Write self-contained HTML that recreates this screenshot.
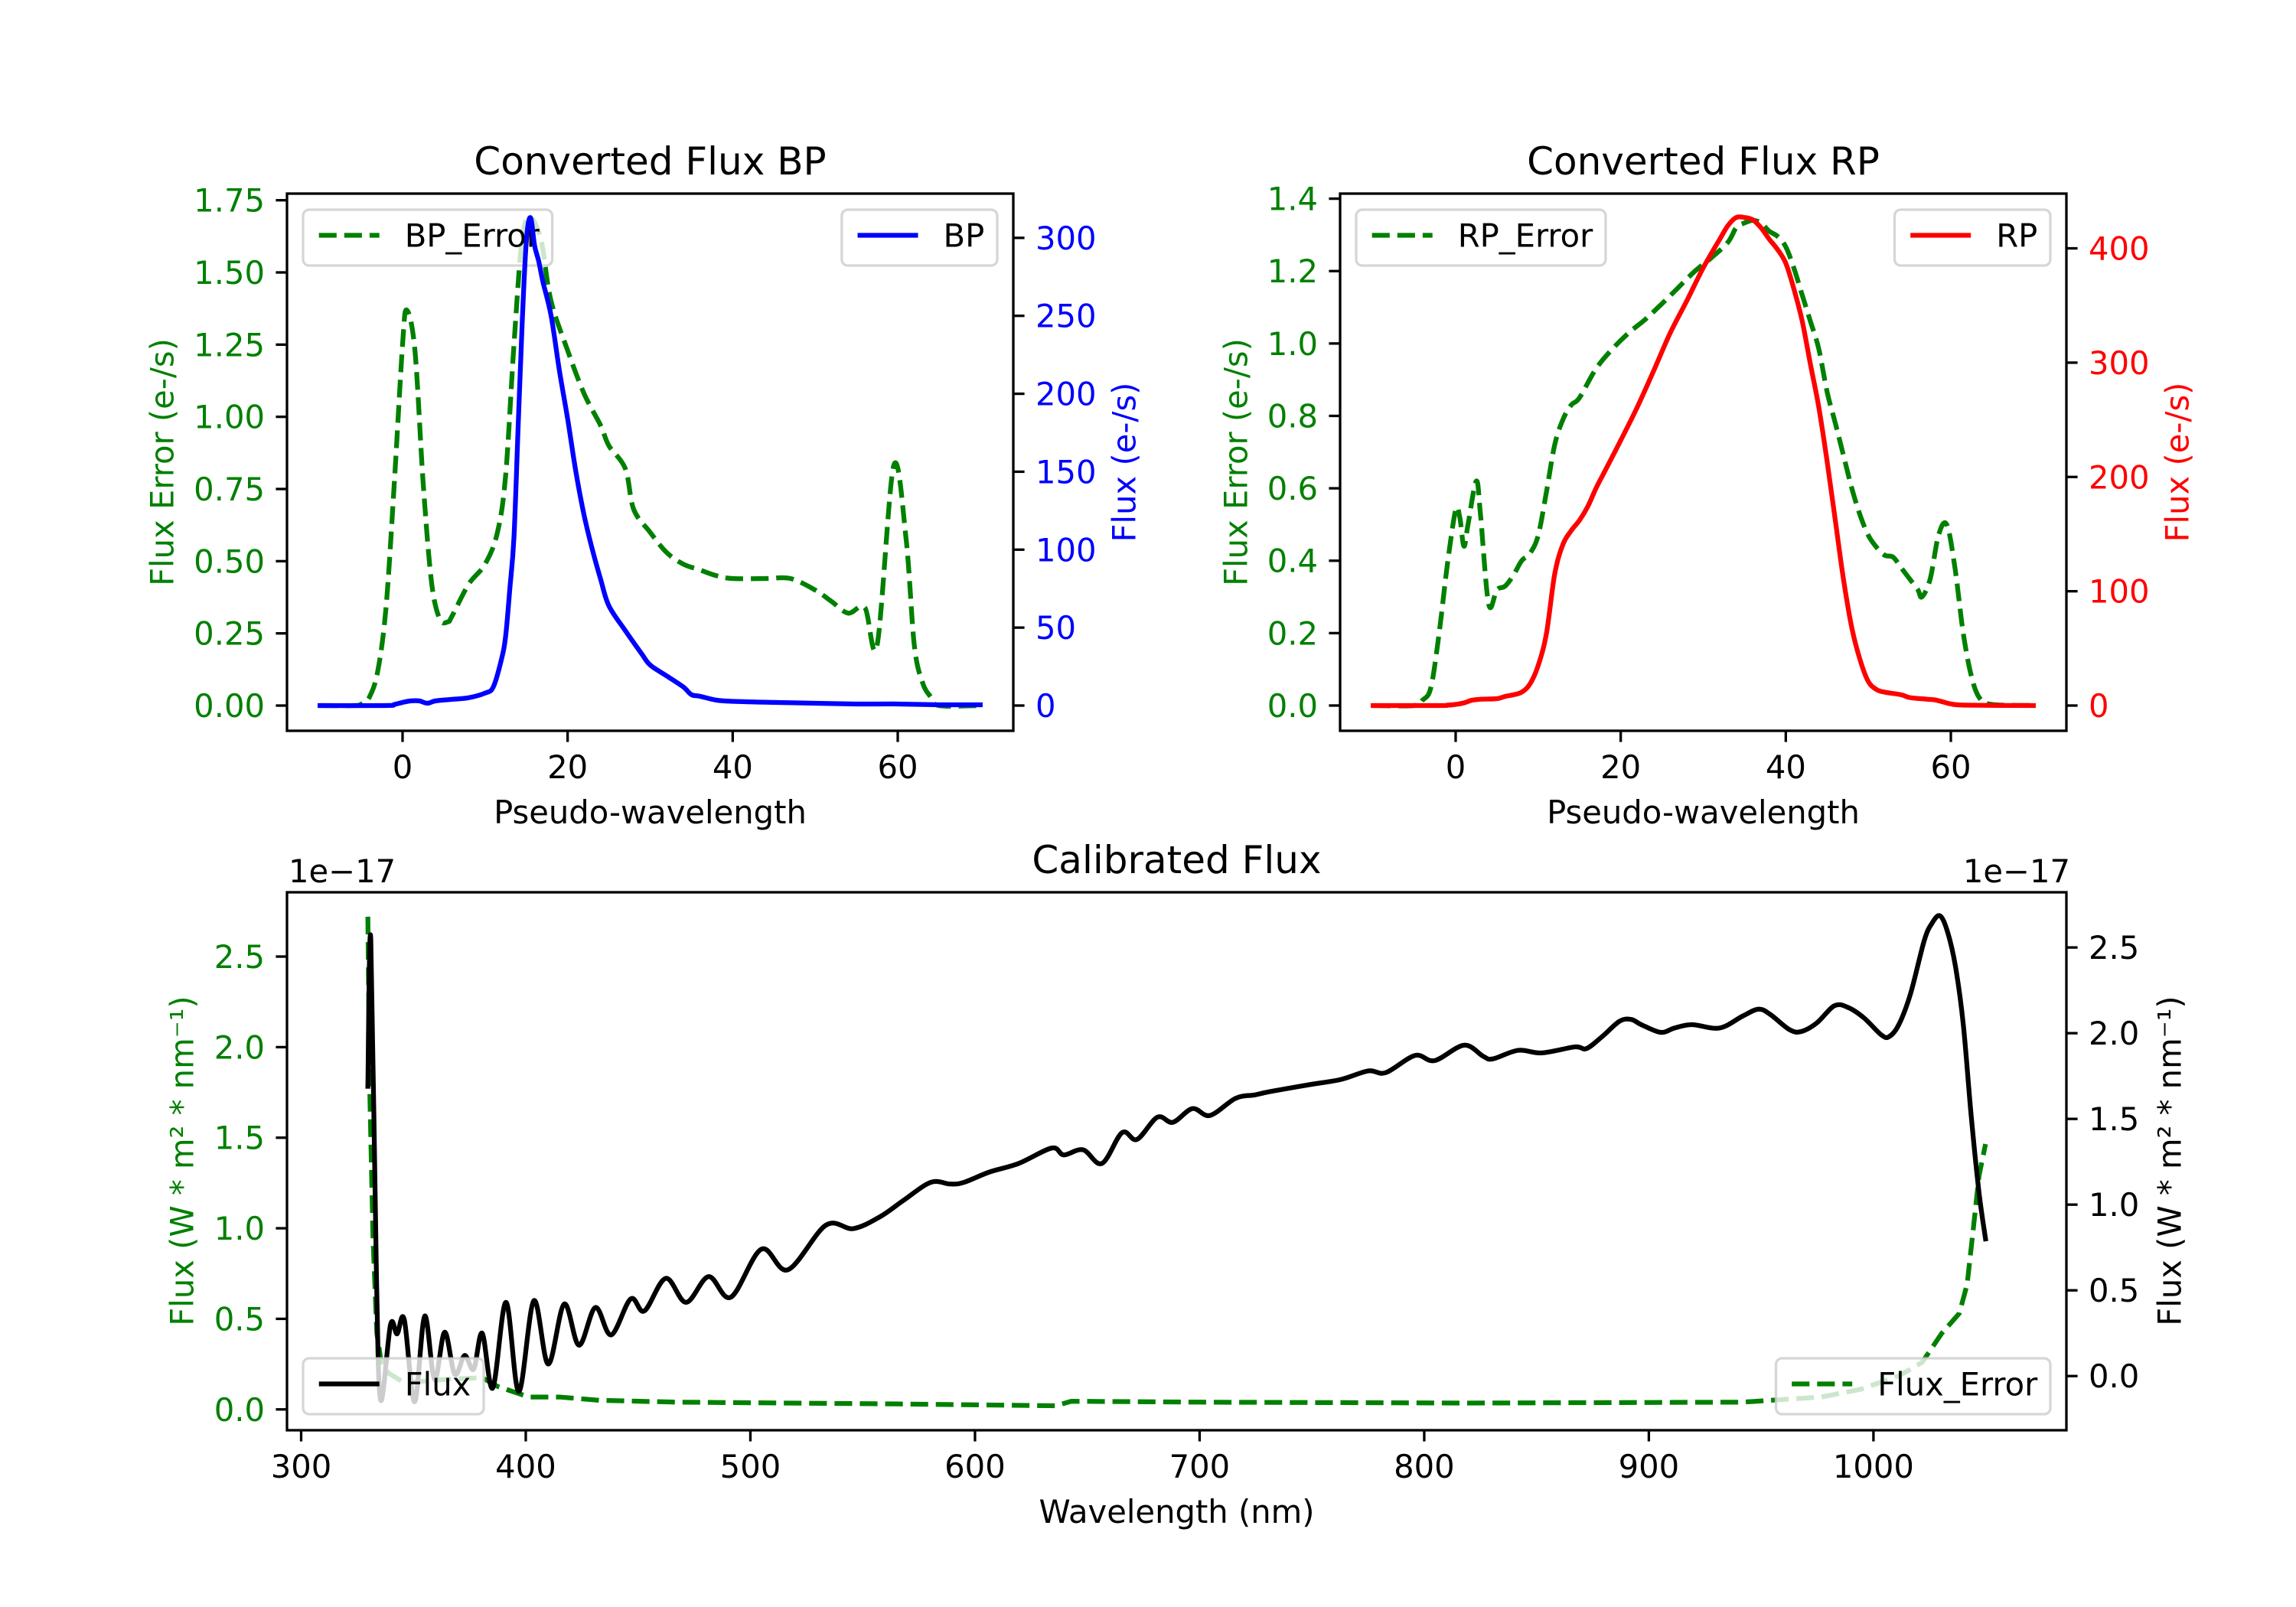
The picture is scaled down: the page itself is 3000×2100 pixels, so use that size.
<!DOCTYPE html>
<html><head><meta charset="utf-8"><title>Converted and Calibrated Flux</title>
<style>
html,body{margin:0;padding:0;background:#fff;}
svg{display:block;font-family:"DejaVu Sans","Liberation Sans",sans-serif;}
</style></head>
<body>
<svg id="fig" width="3000" height="2100" viewBox="0 0 3000 2100" xmlns="http://www.w3.org/2000/svg">
<rect x="0" y="0" width="3000" height="2100" fill="#ffffff"/>
</svg>
<script>
// ---------- BP panel data ----------
const bpErrX = [-10,-6,-5,-4,-3,-2,-1,0,0.5,1.5,2.5,3.5,4.5,5.5,6,8,10,11.5,12.5,13.5,14.5,15.5,16.5,17,18,20,22,24,25,27,28,30,32,34,36,38,40,44,47,50,52,54,56,57.5,59.5,61,62,63,64,65,70];
const bpErrY = [0,0,0.005,0.03,0.12,0.34,0.77,1.25,1.37,1.23,0.77,0.43,0.30,0.29,0.31,0.42,0.49,0.60,0.80,1.25,1.62,1.69,1.64,1.58,1.40,1.23,1.08,0.97,0.90,0.82,0.68,0.60,0.53,0.49,0.47,0.45,0.44,0.44,0.44,0.40,0.36,0.32,0.34,0.21,0.83,0.58,0.21,0.08,0.03,0,0];
const bpFluxX = [-10,-2,-1,0,1,2,3,4,6,8,10,11,12,12.5,13,13.5,14,14.5,15,15.5,16,16.5,17,18,19,20,21,22,23,24,25,27,29,30,32,34,35,36,38,40,45,50,55,60,65,70];
const bpFluxY = [0,0,0.7,2,3,3,1.5,3,4,5,8,12,30,45,75,108,178,246,298,313,295,285,272,250,215,184,150,122,100,81,64,48,33,26,19,12,7,6,3.5,2.7,2,1.5,1,1,0.5,0.5];
const bpLeftTicks = [0,0.25,0.5,0.75,1.0,1.25,1.5,1.75];
const bpLeftTickLabels = ["0.00","0.25","0.50","0.75","1.00","1.25","1.50","1.75"];
const bpRightTicks = [0,50,100,150,200,250,300];
const pseudoTicks = [0,20,40,60];

// ---------- RP panel data ----------
const rpErrX = [-10,-5,-4,-3,-2,-1,0,0.5,1,1.5,2.5,3,4,5,6,7,8,9,10,11,12,13,14,15,17,19,21,23,25,27,29,31,33,34,35,36,37,38,39,40,41,42,43,44,45,46,47,48,49,50,51,52,53,54,55,56,56.5,57.5,58.5,59.5,60.5,61.5,62.5,63.5,65,70];
const rpErrY = [0,0,0.015,0.05,0.2,0.39,0.54,0.52,0.44,0.5,0.62,0.53,0.28,0.32,0.33,0.36,0.40,0.42,0.47,0.59,0.72,0.79,0.83,0.85,0.93,0.985,1.03,1.067,1.11,1.155,1.2,1.237,1.28,1.32,1.333,1.34,1.333,1.31,1.296,1.267,1.207,1.133,1.06,0.985,0.867,0.78,0.69,0.6,0.526,0.47,0.437,0.415,0.41,0.38,0.35,0.32,0.30,0.35,0.47,0.5,0.38,0.2,0.08,0.02,0.003,0];
const rpFluxX = [-10,-2,-1,0,1,2,3,5,6,7,8,9,10,11,12,13,14,15,16,17,18,20,22,24,26,28,30,32,33,34,35,36,37,38,39,40,41,42,43,44,45,46,47,48,49,50,51,52,54,55,57,58,59,60,62,70];
const rpFluxY = [0,0,0.3,1,2.3,4.7,5.5,6,8,9.4,11.7,18.8,35,63,115,141,153,162,174,190,204,232,261,293,326,354,383,408,420,427,427,425,418,408,399,387,364,336,298,261,214,162,110,68,40,21,14,11.7,9.4,7,5.6,5,3.3,1.4,0.3,0];
const rpLeftTicks = [0,0.2,0.4,0.6,0.8,1.0,1.2,1.4];
const rpLeftTickLabels = ["0.0","0.2","0.4","0.6","0.8","1.0","1.2","1.4"];
const rpRightTicks = [0,100,200,300,400];

// ---------- Calibrated panel data (units of 1e-17) ----------
const calFluxX = [329.7,331,333.5,335.4,339.8,342.7,345.9,350.5,355,359.4,363.9,368.4,372.8,376.8,380.6,385.3,391.2,396.9,403.6,410,417.1,423.7,431,438,446.7,452.8,462.3,471.4,481.4,491.3,504.9,516.7,533.6,545.8,557.8,568.2,580.3,589,595.1,606.4,619.4,634.2,639.5,648.1,656.5,665.5,672.1,681.2,688.1,696.8,704.6,716,724.6,731.6,749,762.9,775.1,782.9,795.9,804.6,817.7,826.3,830.5,841.8,852.3,867.1,872.2,879.2,887,892.2,896.6,905.3,911.4,919.2,931.4,941.8,948.8,954,962.7,967.9,974.8,982.6,988.7,995.7,1003.5,1007,1011.3,1016.5,1022.6,1026,1029.6,1033,1036.5,1040,1043.5,1047,1049.9];
const calFluxY = [1.69,2.55,0.6,-0.14,0.30,0.246,0.33,-0.15,0.35,-0.02,0.256,0.01,0.12,0.04,0.25,-0.07,0.43,-0.09,0.44,0.07,0.42,0.18,0.40,0.24,0.45,0.38,0.57,0.43,0.58,0.46,0.74,0.62,0.88,0.86,0.93,1.025,1.13,1.12,1.13,1.19,1.24,1.33,1.29,1.32,1.24,1.42,1.38,1.51,1.48,1.56,1.52,1.62,1.64,1.66,1.70,1.73,1.78,1.77,1.87,1.84,1.93,1.865,1.85,1.90,1.885,1.92,1.91,1.98,2.07,2.08,2.05,2.005,2.03,2.05,2.03,2.10,2.14,2.11,2.02,2.01,2.06,2.16,2.15,2.09,1.99,1.98,2.05,2.23,2.54,2.64,2.685,2.59,2.39,2.05,1.52,1.07,0.80];
const calErrX = [329.7,330.5,332,333.7,335.4,338.9,345.9,363.5,380.6,387.6,401.5,415.4,432.9,467.7,566,635.9,642.9,700,820,941.8,976.6,994,1011.3,1021.7,1030.4,1038.2,1041.7,1044.3,1047,1049.9];
const calErrY = [2.72,1.79,0.94,0.42,0.28,0.20,0.147,0.165,0.175,0.126,0.068,0.068,0.05,0.04,0.03,0.02,0.045,0.04,0.035,0.04,0.068,0.11,0.185,0.26,0.42,0.53,0.69,0.98,1.29,1.465];
const calTicksY = [0,0.5,1.0,1.5,2.0,2.5];
const calTickLabels = ["0.0","0.5","1.0","1.5","2.0","2.5"];
const wlTicks = [300,400,500,600,700,800,900,1000];

// ---------- layout ----------
const NS = "http://www.w3.org/2000/svg";
const svg = document.getElementById('fig');
const FS = 41.7, TICK = 14.6, LW = 3.3, PLW = 6.25;
const GREEN = "#008000";

const axBP = {x0:375,x1:1324,y0:253,y1:955,xl:[-14,74],yl:[-0.0874,1.773],yr:[-16.2,328.4]};
const axRP = {x0:1751,x1:2700,y0:253,y1:955,xl:[-14,74],yl:[-0.0698,1.414],yr:[-22.1,447.9]};
const axCal = {x0:375,x1:2700,y0:1166,y1:1869,xl:[293.7,1085.9],yl:[-0.115,2.855],yr:[-0.316,2.822]};

function sx(ax,v){return ax.x0+(v-ax.xl[0])/(ax.xl[1]-ax.xl[0])*(ax.x1-ax.x0);}
function syL(ax,v){return ax.y1-(v-ax.yl[0])/(ax.yl[1]-ax.yl[0])*(ax.y1-ax.y0);}
function syR(ax,v){return ax.y1-(v-ax.yr[0])/(ax.yr[1]-ax.yr[0])*(ax.y1-ax.y0);}

function mk(tag, attrs, parent){
  const e = document.createElementNS(NS, tag);
  for (const k in attrs) e.setAttribute(k, attrs[k]);
  (parent||svg).appendChild(e);
  return e;
}
function smoothPath(pts){
  if (pts.length<2) return "";
  let d = "M"+pts[0][0].toFixed(2)+","+pts[0][1].toFixed(2);
  for (let i=0;i<pts.length-1;i++){
    const p0=pts[Math.max(0,i-1)], p1=pts[i], p2=pts[i+1], p3=pts[Math.min(pts.length-1,i+2)];
    const c1x=p1[0]+(p2[0]-p0[0])/6, c1y=p1[1]+(p2[1]-p0[1])/6;
    const c2x=p2[0]-(p3[0]-p1[0])/6, c2y=p2[1]-(p3[1]-p1[1])/6;
    d += " C"+c1x.toFixed(2)+","+c1y.toFixed(2)+" "+c2x.toFixed(2)+","+c2y.toFixed(2)+" "+p2[0].toFixed(2)+","+p2[1].toFixed(2);
  }
  return d;
}
function linePath(pts){
  return pts.map((p,i)=>(i?"L":"M")+p[0].toFixed(2)+","+p[1].toFixed(2)).join(" ");
}
function series(ax, xs, ys, side, color, dashed, name, smooth){
  const pts = xs.map((x,i)=>[sx(ax,x), side==='L'?syL(ax,ys[i]):syR(ax,ys[i])]);
  const p = mk('path',{d: smooth?smoothPath(pts):linePath(pts), fill:'none', stroke:color, 'stroke-width':PLW,
    'stroke-linejoin':'round','stroke-linecap': dashed?'butt':'square'});
  if (dashed) p.setAttribute('stroke-dasharray','23.1,10');
  
  
  return p;
}
function text(x,y,str,opts){
  const t = mk('text',{x:x,y:y,'font-size':opts.size||FS,fill:opts.color||'#000','text-anchor':opts.anchor||'start'});
  if (opts.baseline) t.setAttribute('dominant-baseline',opts.baseline);
  if (opts.rotate) t.setAttribute('transform','rotate('+opts.rotate+' '+x+' '+y+')');
  t.textContent = str;
  return t;
}
function frame(ax, name){
  const r = mk('rect',{x:ax.x0,y:ax.y0,width:ax.x1-ax.x0,height:ax.y1-ax.y0,fill:'none',stroke:'#000','stroke-width':LW});
  
  
}
function xTicks(ax, ticks, name){
  const g = mk('g',{});
  
  
  ticks.forEach(v=>{
    const x = sx(ax,v);
    mk('line',{x1:x,y1:ax.y1,x2:x,y2:ax.y1+TICK,stroke:'#000','stroke-width':LW},g);
    const t = text(x, ax.y1+62, String(v), {anchor:'middle'});
    g.appendChild(t);
    
    
  });
}
function yTicks(ax, ticks, labels, side, color, name){
  const g = mk('g',{});
  
  
  ticks.forEach((v,i)=>{
    const y = side==='L'?syL(ax,v):syR(ax,v);
    const xs = side==='L'?ax.x0:ax.x1;
    const dir = side==='L'?-1:1;
    mk('line',{x1:xs,y1:y,x2:xs+dir*TICK,y2:y,stroke:'#000','stroke-width':LW},g);
    const t = text(xs+dir*29, y+15, labels[i], {anchor: side==='L'?'end':'start', color:color});
    g.appendChild(t);
    
    
  });
}
function legend(x, y, anchorRight, label, color, dashed, name){
  const g = mk('g',{});
  
  
  const box = mk('rect',{x:0,y:y,width:10,height:73,rx:8,ry:8,fill:'#ffffff','fill-opacity':0.8,stroke:'#cccccc','stroke-opacity':0.8,'stroke-width':LW},g);
  const t = text(0, y+36.5+12, label, {});
  g.appendChild(t);
  const tw = t.getComputedTextLength ? t.getComputedTextLength() : label.length*25;
  const w = 16.7+83+33+tw+16.7;
  const left = anchorRight ? x-w : x;
  box.setAttribute('x', left); box.setAttribute('width', w);
  t.setAttribute('x', left+16.7+83+33);
  
  
  const l = mk('line',{x1:left+16.7+4,y1:y+33.5,x2:left+16.7+83,y2:y+33.5,stroke:color,'stroke-width':PLW},g);
  if (dashed) l.setAttribute('stroke-dasharray','23.1,10');
  
  
}

// ===== BP panel =====
let t;
series(axBP, bpErrX, bpErrY, 'L', GREEN, true, 'bp-error-line', true);
legend(396, 274, false, 'BP_Error', GREEN, true, 'legend-bp-error');
series(axBP, bpFluxX, bpFluxY, 'R', '#0000ff', false, 'bp-flux-line', true);
legend(1303, 274, true, 'BP', '#0000ff', false, 'legend-bp');
frame(axBP, 'bp-axes-frame');
xTicks(axBP, pseudoTicks, 'bp-x-axis');
yTicks(axBP, bpLeftTicks, bpLeftTickLabels, 'L', GREEN, 'bp-left-y-axis');
yTicks(axBP, bpRightTicks, bpRightTicks.map(String), 'R', '#0000ff', 'bp-right-y-axis');
t = text((axBP.x0+axBP.x1)/2, 228, 'Converted Flux BP', {anchor:'middle', size:50});


t = text((axBP.x0+axBP.x1)/2, 1076, 'Pseudo-wavelength', {anchor:'middle'});


t = text(212, 604, 'Flux Error (e-/s)', {anchor:'middle', color:GREEN, baseline:'central', rotate:-90});


t = text(1469, 604, 'Flux (e-/s)', {anchor:'middle', color:'#0000ff', baseline:'central', rotate:-90});



// ===== RP panel =====
series(axRP, rpErrX, rpErrY, 'L', GREEN, true, 'rp-error-line', true);
legend(1772, 274, false, 'RP_Error', GREEN, true, 'legend-rp-error');
series(axRP, rpFluxX, rpFluxY, 'R', '#ff0000', false, 'rp-flux-line', true);
legend(2679, 274, true, 'RP', '#ff0000', false, 'legend-rp');
frame(axRP, 'rp-axes-frame');
xTicks(axRP, pseudoTicks, 'rp-x-axis');
yTicks(axRP, rpLeftTicks, rpLeftTickLabels, 'L', GREEN, 'rp-left-y-axis');
yTicks(axRP, rpRightTicks, rpRightTicks.map(String), 'R', '#ff0000', 'rp-right-y-axis');
t = text((axRP.x0+axRP.x1)/2, 228, 'Converted Flux RP', {anchor:'middle', size:50});


t = text((axRP.x0+axRP.x1)/2, 1076, 'Pseudo-wavelength', {anchor:'middle'});


t = text(1615, 604, 'Flux Error (e-/s)', {anchor:'middle', color:GREEN, baseline:'central', rotate:-90});


t = text(2845, 604, 'Flux (e-/s)', {anchor:'middle', color:'#ff0000', baseline:'central', rotate:-90});



// ===== Calibrated panel =====
series(axCal, calErrX, calErrY, 'L', GREEN, true, 'calibrated-error-line', false);
legend(2679, 1775, true, 'Flux_Error', GREEN, true, 'legend-flux-error');
series(axCal, calFluxX, calFluxY, 'R', '#000000', false, 'calibrated-flux-line', true);
legend(396, 1775, false, 'Flux', '#000000', false, 'legend-flux');
frame(axCal, 'calibrated-axes-frame');
xTicks(axCal, wlTicks, 'calibrated-x-axis');
yTicks(axCal, calTicksY, calTickLabels, 'L', GREEN, 'calibrated-left-y-axis');
yTicks(axCal, calTicksY, calTickLabels, 'R', '#000000', 'calibrated-right-y-axis');
t = text((axCal.x0+axCal.x1)/2, 1141, 'Calibrated Flux', {anchor:'middle', size:50});


t = text((axCal.x0+axCal.x1)/2, 1990, 'Wavelength (nm)', {anchor:'middle'});


t = text(377, 1153, '1e\u221217', {});


t = text(2705, 1153, '1e\u221217', {anchor:'end'});


t = text(238, 1517, 'Flux (W * m\u00B2 * nm\u207B\u00B9)', {anchor:'middle', color:GREEN, baseline:'central', rotate:-90});


t = text(2835, 1517, 'Flux (W * m\u00B2 * nm\u207B\u00B9)', {anchor:'middle', color:'#000000', baseline:'central', rotate:-90});


</script>
</body></html>
